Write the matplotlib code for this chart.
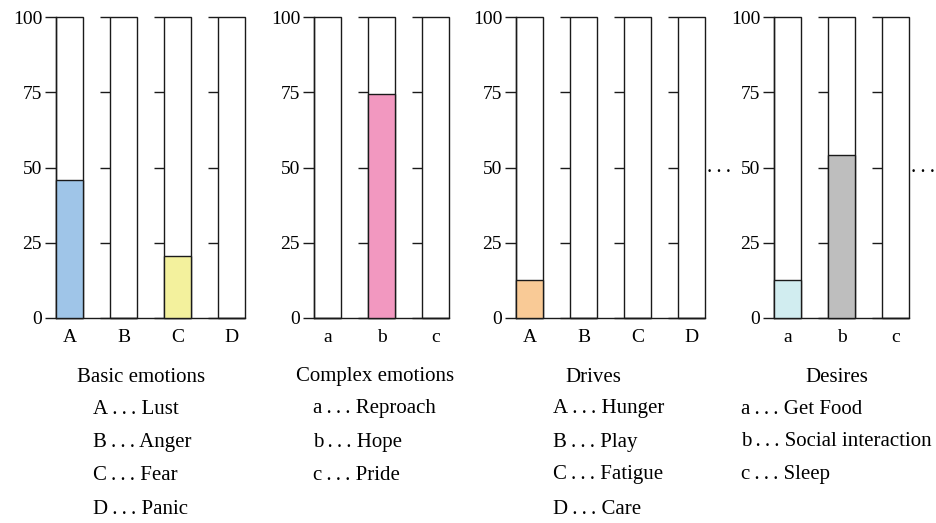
import matplotlib
matplotlib.use("Agg")
import matplotlib.pyplot as plt

plt.rcParams['font.family'] = ['Liberation Serif', 'DejaVu Serif']

# Data
basic_labels = ['A', 'B', 'C', 'D']
basic_values = [46, 0, 20.5, 0]
basic_colors = ['#9fc5e8', 'white', '#f3f19d', 'white']
basic_names = ['Lust', 'Anger', 'Fear', 'Panic']

complex_labels = ['a', 'b', 'c']
complex_values = [0, 74.5, 0]
complex_colors = ['white', '#f298c0', 'white']
complex_names = ['Reproach', 'Hope', 'Pride']

drive_labels = ['A', 'B', 'C', 'D']
drive_values = [12.5, 0, 0, 0]
drive_colors = ['#f9ca96', 'white', 'white', 'white']
drive_names = ['Hunger', 'Play', 'Fatigue', 'Care']

desire_labels = ['a', 'b', 'c']
desire_values = [12.5, 54, 0]
desire_colors = ['#d1edf0', '#bebebe', 'white']
desire_names = ['Get Food', 'Social interaction', 'Sleep']

yticks = [0, 25, 50, 75, 100]

W, H = 936, 523
fig = plt.figure(figsize=(W / 100, H / 100), dpi=100)

groups = [
    ('Basic emotions', basic_labels, basic_values, basic_colors, basic_names, 56, 141, 93, False),
    ('Complex emotions', complex_labels, complex_values, complex_colors, complex_names, 314, 375, 313, False),
    ('Drives', drive_labels, drive_values, drive_colors, drive_names, 516, 593, 553, True),
    ('Desires', desire_labels, desire_values, desire_colors, desire_names, 774, 837, 741, True),
]

px_per_unit = 54
bar_w = 0.5
tick_len = 10 / px_per_unit
edge = '#1a1a1a'
fs = 15

for title, labels, values, colors, names, left_px, title_px, leg_px, dots in groups:
    n = len(labels)
    width_px = n * px_per_unit - (1 - bar_w) * px_per_unit
    ax = fig.add_axes([left_px / W, 1 - 318 / H, width_px / W, 301 / H])
    x = list(range(n))
    ax.bar(x, [100] * n, width=bar_w, color='white', edgecolor=edge, linewidth=1.0, clip_on=False, zorder=2)
    ax.bar(x, values, width=bar_w, color=colors, edgecolor=edge, linewidth=1.0, clip_on=False, zorder=3)
    # tick marks to the left of every bar after the first
    for xi in x[1:]:
        ax.hlines(yticks, xi - bar_w / 2 - tick_len, xi - bar_w / 2, color=edge, linewidth=1.0, clip_on=False)
    ax.set_xlim(-bar_w / 2, n - 1 + bar_w / 2)
    ax.set_ylim(0, 100)
    ax.set_yticks(yticks)
    ax.set_xticks(x)
    ax.set_xticklabels(labels)
    ax.tick_params(axis='y', direction='out', length=8, width=1.0, pad=2, labelsize=14, color=edge)
    ax.tick_params(axis='x', length=0, pad=8, labelsize=14)
    for s in ['top', 'right']:
        ax.spines[s].set_visible(False)
    ax.spines['left'].set_color(edge)
    ax.spines['bottom'].set_color(edge)
    ax.spines['left'].set_linewidth(1.0)
    ax.spines['bottom'].set_linewidth(1.0)
    ax.patch.set_alpha(0)

    if dots:
        fig.text((left_px + width_px + 14) / W, 1 - 168 / H, '.\u2009.\u2009.', ha='center', va='center', fontsize=fs)

    fig.text(title_px / W, 1 - 377 / H, title, ha='center', va='center', fontsize=fs)
    for i, (lab, name) in enumerate(zip(labels, names)):
        yy = [409, 442, 475, 509][i]
        fig.text(leg_px / W, 1 - yy / H, lab + '\u2009.\u2009.\u2009. ' + name,
                 ha='left', va='center', fontsize=fs)

fig.savefig('out.png', dpi=100)
